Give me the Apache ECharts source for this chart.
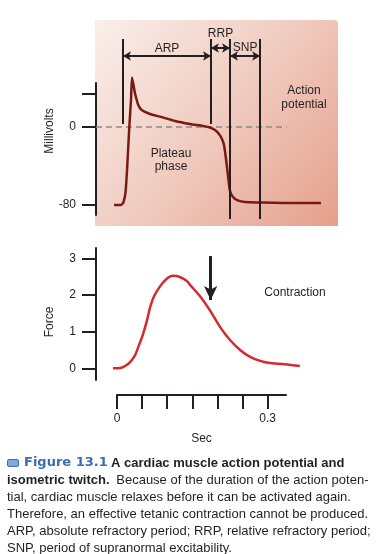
<!DOCTYPE html>
<html><head><meta charset="utf-8">
<script src="https://cdn.jsdelivr.net/npm/echarts@6/dist/echarts.min.js"></script>
<style>html,body{margin:0;padding:0;background:#fff}#c{width:379px;height:554px}</style>
</head><body><div id="c"></div>
<script>
// Action potential (time in s, membrane potential in mV)
const apTime = [-0.006, 0.008, 0.013, 0.017, 0.020, 0.0245, 0.0279, 0.0299, 0.0329, 0.0358, 0.0424, 0.0492, 0.0657, 0.0856, 0.1155, 0.1453, 0.171, 0.185, 0.195, 0.203, 0.209, 0.213, 0.216, 0.219, 0.222, 0.225, 0.231, 0.239, 0.255, 0.285, 0.344, 0.406];
const apMv   = [-80, -80, -77, -66.7, -44, 0, 27.7, 50.8, 43, 34.6, 22.6, 17.4, 13.3, 10.6, 6.2, 3.1, 1, -0.5, -3.1, -7.2, -12.3, -18.5, -28.7, -41, -54.4, -65.6, -71.8, -74.9, -77, -77.4, -77.9, -77.9];
// Isometric twitch force
const forceTime = [-0.008, 0.002, 0.010, 0.016, 0.026, 0.036, 0.044, 0.052, 0.060, 0.066, 0.074, 0.086, 0.098, 0.111, 0.125, 0.139, 0.145, 0.165, 0.185, 0.205, 0.225, 0.245, 0.265, 0.285, 0.301, 0.334, 0.364];
const forceVal  = [0, 0, 0.02, 0.06, 0.17, 0.36, 0.64, 0.94, 1.32, 1.67, 1.97, 2.24, 2.43, 2.52, 2.49, 2.38, 2.28, 1.97, 1.58, 1.13, 0.77, 0.50, 0.31, 0.20, 0.15, 0.11, 0.06];
// Refractory period boundaries (s): ARP start, RRP start, SNP start, SNP end
const periodBounds = [0.012, 0.187, 0.225, 0.285];
const periodNames = ['ARP', 'RRP', 'SNP'];
const contractionArrowTime = 0.1865;
// Ticks / labels
const mvTicks = [34, 0, -80];
const mvLabels = [0, -80];
const forceTicks = [0, 1, 2, 3];
const timeTicks = [0, 0.05, 0.1, 0.15, 0.2, 0.25, 0.3];
const timeLabels = [0, 0.3];

const FONT = "'Liberation Sans', Arial, Helvetica, sans-serif";
const INK = '#231f20';
const chart = echarts.init(document.getElementById('c'));

const zip = (a, b) => a.map((v, i) => [v, b[i]]);
const vline = (t, y0, y1) => [{coord: [t, y0], symbol: 'none'}, {coord: [t, y1], symbol: 'none'}];
const harrow = (t0, t1, y, name, dist) => [
  {coord: [t0, y], symbol: 'arrow', label: {show: true, formatter: name, position: 'middle', distance: dist, color: INK, fontSize: 12, fontFamily: FONT}},
  {coord: [t1, y], symbol: 'arrow'}
];
const [b0, b1, b2, b3] = periodBounds;

const yAxisBase = {
  axisLine: {show: true, onZero: false, lineStyle: {color: INK, width: 2}},
  axisTick: {show: true, length: 14, lineStyle: {color: INK, width: 2}},
  axisLabel: {color: INK, fontSize: 12, fontFamily: FONT, margin: 20},
  splitLine: {show: false}
};
const T_MIN = -0.0418, T_MAX = 0.44;

chart.setOption({
  animation: false,
  backgroundColor: '#fff',
  grid: [
    {left: 96, top: 83, width: 242, height: 132},   // mV axis
    {left: 96, top: 248, width: 242, height: 132},  // force
    {left: 117, top: 394, width: 169, height: 1},   // time axis
    {left: 96, top: 20, width: 242, height: 206}    // AP plotting area (panel)
  ],
  xAxis: [
    {gridIndex: 0, type: 'value', min: T_MIN, max: T_MAX, show: false},
    {gridIndex: 1, type: 'value', min: T_MIN, max: T_MAX, show: false},
    {gridIndex: 2, type: 'value', min: 0, max: 0.3365, position: 'bottom',
      axisLine: {show: true, onZero: false, lineStyle: {color: INK, width: 2}},
      axisTick: {show: true, length: 14, customValues: timeTicks, lineStyle: {color: INK, width: 2}},
      axisLabel: {customValues: timeLabels, color: INK, fontSize: 12, fontFamily: FONT, margin: 18},
      splitLine: {show: false},
      name: 'Sec', nameLocation: 'middle', nameGap: 38,
      nameTextStyle: {color: INK, fontSize: 12, fontFamily: FONT}},
    {gridIndex: 3, type: 'value', min: T_MIN, max: T_MAX, show: false}
  ],
  yAxis: [
    Object.assign({}, yAxisBase, {gridIndex: 0, type: 'value', min: -90.3, max: 45.1,
      axisTick: Object.assign({}, yAxisBase.axisTick, {customValues: mvTicks}),
      axisLabel: Object.assign({}, yAxisBase.axisLabel, {customValues: mvLabels})}),
    Object.assign({}, yAxisBase, {gridIndex: 1, type: 'value', min: -0.32, max: 3.28,
      axisTick: Object.assign({}, yAxisBase.axisTick, {customValues: forceTicks}),
      axisLabel: Object.assign({}, yAxisBase.axisLabel, {customValues: forceTicks})}),
    {gridIndex: 2, type: 'value', show: false},
    {gridIndex: 3, type: 'value', min: -101.5, max: 109.7, show: false}
  ],
  series: [
    {
      type: 'line', name: 'zero', xAxisIndex: 3, yAxisIndex: 3, z: 1,
      data: [[T_MIN, 0], [0.338, 0]], showSymbol: false, silent: true,
      lineStyle: {color: '#8c8a8a', width: 1.5, type: [6, 4]}
    },
    {
      type: 'line', name: 'Action potential', xAxisIndex: 3, yAxisIndex: 3, z: 3,
      data: zip(apTime, apMv), showSymbol: false, smooth: 0.2, silent: true,
      lineStyle: {color: '#7a1a14', width: 2.5},
      markLine: {
        silent: true, symbolSize: [7, 8], animation: false,
        lineStyle: {color: INK, width: 2, type: 'solid'},
        label: {show: false},
        data: [
          vline(b0, 90.3, 3.1),
          vline(b1, 90.3, 3.1),
          vline(b2, 90.3, -94.4),
          vline(b3, 90.3, -94.4),
          harrow(b0, b1, 72.8, periodNames[0], 1),
          harrow(b1, b2, 81, periodNames[1], 8),
          harrow(b2, b3, 72.8, periodNames[2], 2)
        ]
      }
    },
    {
      type: 'line', name: 'Contraction', xAxisIndex: 1, yAxisIndex: 1, clip: false, z: 3,
      data: zip(forceTime, forceVal), showSymbol: false, smooth: 0.3, silent: true,
      lineStyle: {color: '#d42a2f', width: 2.5},
      markLine: {
        silent: true, symbolSize: [10, 14], animation: false,
        lineStyle: {color: INK, width: 3, type: 'solid'},
        label: {show: false},
        data: [[{coord: [contractionArrowTime, 3.06], symbol: 'none'}, {coord: [contractionArrowTime, 1.86], symbol: 'arrow'}]]
      }
    }
  ],
  graphic: [
    {type: 'rect', z: -10, silent: true,
      shape: {x: 95, y: 20, width: 243, height: 206, r: [0, 4, 0, 0]},
      style: {fill: new echarts.graphic.LinearGradient(0, 0, 1, 1, [
        {offset: 0, color: '#faefeb'}, {offset: 0.5, color: '#f0cbbf'}, {offset: 1, color: '#e59f8c'}])}},
    {type: 'text', x: 304, y: 98, silent: true,
      style: {text: 'Action\npotential', fill: INK, font: '12px ' + FONT, textAlign: 'center', textVerticalAlign: 'middle', lineHeight: 14}},
    {type: 'text', x: 171, y: 160, silent: true,
      style: {text: 'Plateau\nphase', fill: INK, font: '12px ' + FONT, textAlign: 'center', textVerticalAlign: 'middle', lineHeight: 13}},
    {type: 'text', x: 295, y: 293, silent: true,
      style: {text: 'Contraction', fill: INK, font: '12px ' + FONT, textAlign: 'center', textVerticalAlign: 'middle'}},
    {type: 'text', x: 50, y: 131, rotation: Math.PI / 2, silent: true,
      style: {text: 'Millivolts', fill: INK, font: '12px ' + FONT, textAlign: 'center', textVerticalAlign: 'middle'}},
    {type: 'text', x: 50, y: 322, rotation: Math.PI / 2, silent: true,
      style: {text: 'Force', fill: INK, font: '12px ' + FONT, textAlign: 'center', textVerticalAlign: 'middle'}},
    {type: 'rect', silent: true, shape: {x: 7.5, y: 459.5, width: 11, height: 7, r: 1.5},
      style: {fill: '#7fa8dc', stroke: '#3d6fb6', lineWidth: 1}},
    {type: 'text', x: 24, y: 463, silent: true,
      style: {text: '{f|Figure 13.1} {b|A cardiac muscle action potential and}', textVerticalAlign: 'middle',
        rich: {f: {fill: '#3a6db4', font: "bold 13px 'DejaVu Sans', sans-serif"}, b: {fill: INK, font: 'bold 13px ' + FONT}}}},
    {type: 'text', x: 7, y: 480, silent: true,
      style: {text: '{b|isometric twitch.}  {n|Because of the duration of the action poten-}', textVerticalAlign: 'middle',
        rich: {b: {fill: INK, font: 'bold 13px ' + FONT}, n: {fill: INK, font: '13px ' + FONT}}}},
    {type: 'text', x: 7, y: 497, silent: true,
      style: {text: 'tial, cardiac muscle relaxes before it can be activated again.', fill: INK, font: '13px ' + FONT, textVerticalAlign: 'middle'}},
    {type: 'text', x: 7, y: 514, silent: true,
      style: {text: 'Therefore, an effective tetanic contraction cannot be produced.', fill: INK, font: '13px ' + FONT, textVerticalAlign: 'middle'}},
    {type: 'text', x: 7, y: 531, silent: true,
      style: {text: 'ARP, absolute refractory period; RRP, relative refractory period;', fill: INK, font: '13px ' + FONT, textVerticalAlign: 'middle'}},
    {type: 'text', x: 7, y: 548, silent: true,
      style: {text: 'SNP, period of supranormal excitability.', fill: INK, font: '13px ' + FONT, textVerticalAlign: 'middle'}}
  ]
});
</script>
</body></html>
